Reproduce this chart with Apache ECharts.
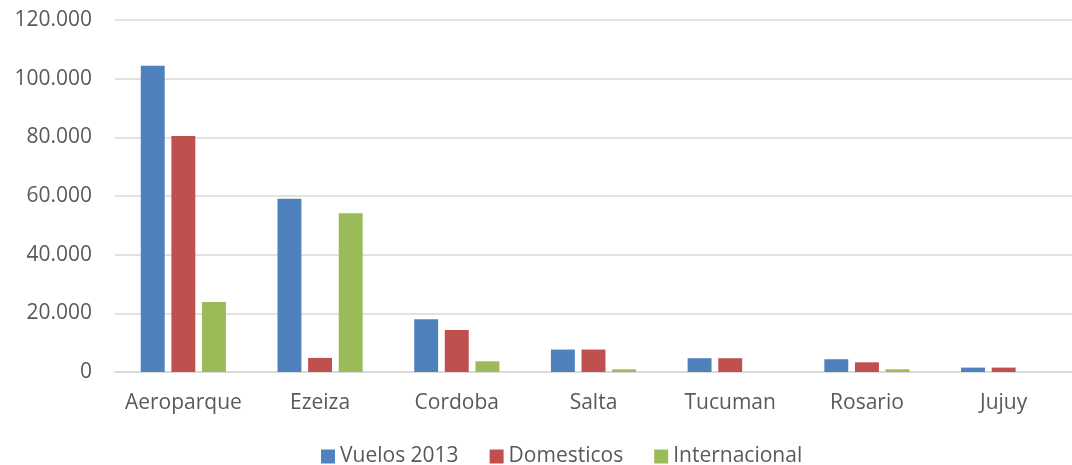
<!DOCTYPE html>
<html>
<head>
<meta charset="utf-8">
<script src="https://cdn.jsdelivr.net/npm/echarts@6/dist/echarts.min.js"></script>
<style>html,body{margin:0;padding:0;background:#fff}#c{width:1072px;height:465px}</style>
</head>
<body>
<div id="c"></div>
<script>
var categories = ['Aeroparque', 'Ezeiza', 'Cordoba', 'Salta', 'Tucuman', 'Rosario', 'Jujuy'];
var vuelos2013 = [104400, 59100, 17950, 7650, 4700, 4350, 1500];
var domesticos = [80450, 4800, 14300, 7650, 4700, 3300, 1500];
var internacional = [23900, 54100, 3650, 900, 0, 900, 0];
var seriesNames = ['Vuelos 2013', 'Domesticos', 'Internacional'];
var yTicks = [0, 20000, 40000, 60000, 80000, 100000, 120000];

function fmt(v) {
  return String(v).replace(/\B(?=(\d{3})+(?!\d))/g, '.');
}
var font = "'Open Sans', sans-serif";
var chart = echarts.init(document.getElementById('c'), null, {renderer: 'canvas'});
var barCommon = {
  type: 'bar',
  barWidth: '17.5%',
  barGap: '28%'
};
chart.setOption({
  animation: false,
  textStyle: {fontFamily: font},
  grid: {left: 115, right: -13, top: 20, bottom: 93, containLabel: false},
  legend: {
    top: 441, left: 316,
    itemWidth: 14, itemHeight: 14, itemGap: 31,
    icon: 'rect',
    textStyle: {fontSize: 21, color: '#595959', fontFamily: font},
    data: seriesNames
  },
  xAxis: {
    type: 'category',
    data: categories,
    axisLine: {lineStyle: {color: '#d9d9d9', width: 1.5}},
    axisTick: {show: false},
    axisLabel: {fontSize: 21, color: '#595959', margin: 21, interval: 0, fontFamily: font}
  },
  yAxis: {
    type: 'value',
    min: yTicks[0], max: yTicks[yTicks.length - 1], interval: yTicks[1] - yTicks[0],
    axisLine: {show: false},
    axisTick: {show: false},
    splitLine: {lineStyle: {color: '#d9d9d9', width: 1.5}},
    axisLabel: {fontSize: 21, color: '#595959', margin: 23, fontFamily: font, formatter: fmt}
  },
  series: [
    Object.assign({}, barCommon, {name: seriesNames[0], data: vuelos2013, itemStyle: {color: '#4F81BD'}}),
    Object.assign({}, barCommon, {name: seriesNames[1], data: domesticos, itemStyle: {color: '#C0504D'}}),
    Object.assign({}, barCommon, {name: seriesNames[2], data: internacional, itemStyle: {color: '#9BBB59'}})
  ]
});
</script>
</body>
</html>
